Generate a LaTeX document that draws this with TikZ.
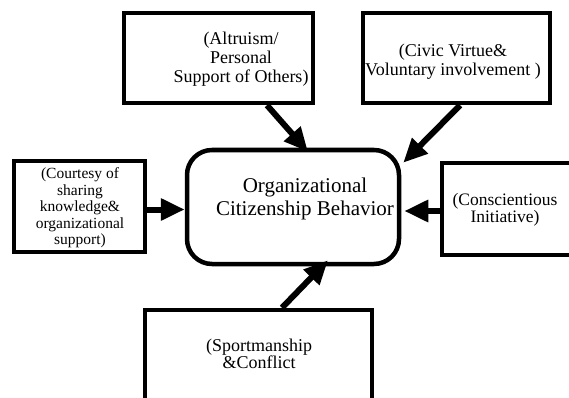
\documentclass[tikz,border=0pt]{standalone}
\usepackage{fontspec}
\setmainfont{Liberation Serif}
\usetikzlibrary{arrows.meta, positioning, calc}
\tikzstyle{dimbox} = [rectangle, draw, line width=4.5pt, inner sep=0pt]
\tikzstyle{ocbbox} = [rectangle, draw, rounded corners=25pt, line width=4.5pt, inner sep=0pt, minimum width=212pt, minimum height=114pt]
\tikzstyle{boxtext} = [align=center, inner sep=0pt, font=\fontsize{18}{19}\selectfont]
\tikzstyle{arrow} = [-{Triangle[length=24pt, width=21pt]}, line width=6pt]

\begin{document}
\begin{tikzpicture}[x=1pt, y=-1pt]
    \useasboundingbox (0,0) rectangle (569,398);

    % Central behaviour
    \node[ocbbox] (ocb) at (293,207) {};
    \node[boxtext, font=\fontsize{21}{23}\selectfont] (ocbtext) at (305,199) {Organizational\\Citizenship Behavior};

    % Dimensions
    \node[dimbox, minimum width=189pt, minimum height=90pt] (altruism) at (218.5,58) {};
    \node[dimbox, minimum width=187pt, minimum height=90pt] (civic) at (456.5,58) {};
    \node[dimbox, minimum width=131pt, minimum height=91pt] (courtesy) at (79.5,206.5) {};
    \node[dimbox, minimum width=148pt, minimum height=92pt] (consc) at (516,209) {};
    \node[dimbox, minimum width=227pt, minimum height=110pt] (sport) at (258.5,365) {};

    % Dimension texts
    \node[boxtext] (altruismtext) at (241,59) {(Altruism/\\Personal\\Support of Others)};
    \node[boxtext] (civictext) at (453,62) {(Civic Virtue\&\\Voluntary involvement )};
    \node[boxtext, font=\fontsize{15.5}{16.5}\selectfont] (courtesytext) at (80,208) {(Courtesy of\\sharing\\knowledge\&\\organizational\\support)};
    \node[boxtext, font=\fontsize{17.5}{17}\selectfont] (consctext) at (505,210) {(Conscientious\\Initiative)};
    \node[boxtext, font=\fontsize{18}{17.5}\selectfont] (sporttext) at (259,354) {(Sportmanship\\\&Conflict};

    % Connections
    \draw[arrow] ([xshift=48.5pt]altruism.south) -- ([xshift=15pt,yshift=-4pt]ocb.north);
    \draw[arrow] ([xshift=3.5pt]civic.south) -- ([xshift=2pt,yshift=-15pt]ocb.north east);
    \draw[arrow] ([yshift=-3pt]courtesy.east) -- ([yshift=-2.5pt]ocb.west);
    \draw[arrow] ([yshift=-2pt]consc.west) -- ([xshift=3pt,yshift=-4pt]ocb.east);
    \draw[arrow] ([xshift=23.5pt]sport.north) -- ([xshift=35pt,yshift=6pt]ocb.south);
\end{tikzpicture}
\end{document}
